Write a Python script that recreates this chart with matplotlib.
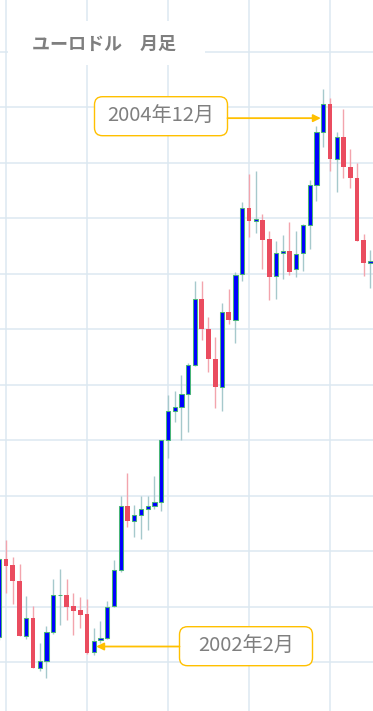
"""
EUR/USD monthly candlestick chart (2000-12 .. 2005-07) with two annotations.
"""

import matplotlib
matplotlib.use('Agg')
import matplotlib.pyplot as plt
from matplotlib.patches import FancyBboxPatch, Rectangle
from matplotlib.transforms import IdentityTransform

plt.rcParams['font.family'] = ['Noto Sans CJK JP', 'DejaVu Sans']

# =========================================================================
# DATA (monthly OHLC)
# =========================================================================
months = [
    '2000-12', '2001-01', '2001-02', '2001-03', '2001-04', '2001-05', '2001-06',
    '2001-07', '2001-08', '2001-09', '2001-10', '2001-11', '2001-12', '2002-01',
    '2002-02', '2002-03', '2002-04', '2002-05', '2002-06', '2002-07', '2002-08',
    '2002-09', '2002-10', '2002-11', '2002-12', '2003-01', '2003-02', '2003-03',
    '2003-04', '2003-05', '2003-06', '2003-07', '2003-08', '2003-09', '2003-10',
    '2003-11', '2003-12', '2004-01', '2004-02', '2004-03', '2004-04', '2004-05',
    '2004-06', '2004-07', '2004-08', '2004-09', '2004-10', '2004-11', '2004-12',
    '2005-01', '2005-02', '2005-03', '2005-04', '2005-05', '2005-06', '2005-07',
]
opens = [
    0.8725, 0.9428, 0.9370, 0.9230, 0.8737, 0.8894, 0.8449,
    0.8506, 0.8768, 0.9101, 0.9101, 0.9004, 0.8968, 0.8932,
    0.8587, 0.8695, 0.8716, 0.9005, 0.9326, 0.9905, 0.9773,
    0.9824, 0.9878, 0.9905, 0.9941, 1.0497, 1.0759, 1.0795,
    1.0912, 1.1173, 1.1768, 1.1497, 1.1227, 1.0980, 1.1650,
    1.1577, 1.1993, 1.2594, 1.2470, 1.2482, 1.2311, 1.1974,
    1.2182, 1.2203, 1.2040, 1.2182, 1.2434, 1.2795, 1.3275,
    1.3524, 1.3029, 1.3227, 1.2956, 1.2863, 1.2302, 1.2097,
]
highs = [
    0.9440, 0.9599, 0.9446, 0.9383, 0.9095, 0.9004, 0.8671,
    0.8824, 0.9248, 0.9338, 0.9248, 0.9122, 0.9083, 0.9068,
    0.8804, 0.8872, 0.9052, 0.9419, 0.9995, 1.0203, 0.9914,
    0.9995, 0.9995, 1.0176, 1.0500, 1.0905, 1.0941, 1.1086,
    1.1191, 1.1932, 1.1932, 1.1605, 1.1425, 1.1732, 1.1858,
    1.2011, 1.2644, 1.2896, 1.2923, 1.2536, 1.2386, 1.2293,
    1.2347, 1.2464, 1.2383, 1.2446, 1.2842, 1.3329, 1.3662,
    1.3578, 1.3275, 1.3478, 1.3118, 1.2992, 1.2356, 1.2212,
]
lows = [
    0.8700, 0.9124, 0.9025, 0.8730, 0.8710, 0.8445, 0.8422,
    0.8359, 0.8750, 0.8836, 0.8881, 0.8743, 0.8806, 0.8575,
    0.8563, 0.8668, 0.8710, 0.8998, 0.9308, 0.9719, 0.9629,
    0.9611, 0.9692, 0.9881, 0.9863, 1.0338, 1.0665, 1.0500,
    1.0569, 1.1166, 1.1401, 1.1113, 1.0791, 1.0764, 1.1542,
    1.1377, 1.1935, 1.2332, 1.2367, 1.2043, 1.1761, 1.1773,
    1.1953, 1.1986, 1.1971, 1.2025, 1.2223, 1.2656, 1.3142,
    1.2926, 1.2737, 1.2857, 1.2773, 1.2290, 1.1980, 1.1867,
]
closes = [
    0.9428, 0.9368, 0.9230, 0.8737, 0.8894, 0.8449, 0.8506,
    0.8768, 0.9101, 0.9108, 0.8998, 0.8962, 0.8926, 0.8581,
    0.8692, 0.8714, 0.8998, 0.9326, 0.9905, 0.9773, 0.9824,
    0.9878, 0.9905, 0.9941, 1.0497, 1.0759, 1.0795, 1.0912,
    1.1173, 1.1768, 1.1497, 1.1227, 1.0980, 1.1650, 1.1577,
    1.1984, 1.2594, 1.2473, 1.2488, 1.2302, 1.1971, 1.2182,
    1.2203, 1.2016, 1.2178, 1.2434, 1.2795, 1.3275, 1.3524,
    1.3029, 1.3227, 1.2956, 1.2863, 1.2295, 1.2097, 1.2115,
]
price_levels = [0.85, 0.90, 0.95, 1.00, 1.05, 1.10, 1.15, 1.20, 1.25, 1.30, 1.35, 1.40]
year_starts = ['2001-01', '2002-01', '2003-01', '2004-01', '2005-01']

title = 'ユーロドル　月足'
notes = [('2004-12', '2004年12月'), ('2002-02', '2002年2月')]

# =========================================================================
# Styling
# =========================================================================
UP_BODY = '#0000ff'
UP_EDGE = '#48b478'
UP_WICK = '#a6c9cc'
DN_BODY = '#ea4c5f'
DN_WICK = '#f3a4ad'
GRID = '#dce8f1'
ACCENT = '#ffc000'
TEXT = '#7f7f7f'

W, H = 373, 711


# pixel -> data helpers (layout only)
def px_x(px):
    return 13 + (px - 87) / 6.75


def px_y(py):
    return 0.85 + (662 - py) / 1110


fig = plt.figure(figsize=(W / 100, H / 100), dpi=100)
ax = fig.add_axes([0, 0, 1, 1])
ax.set_xlim(px_x(0), px_x(W))
ax.set_ylim(px_y(H), px_y(0))

for s in ax.spines.values():
    s.set_visible(False)
ax.set_xticks([months.index(m) for m in year_starts])
ax.set_yticks(price_levels)
ax.tick_params(length=0, labelbottom=False, labelleft=False)
ax.grid(True, color=GRID, linewidth=1.1)
ax.set_axisbelow(True)

# candles
body_w = 0.62
for k in range(len(months)):
    o, h, l, c = opens[k], highs[k], lows[k], closes[k]
    up = c >= o
    ax.vlines(k, l, h, color=UP_WICK if up else DN_WICK, linewidth=1.0, zorder=2)
    bottom = min(o, c)
    height = max(abs(c - o), 0.0004)
    if up:
        ax.bar(k, height, bottom=bottom, width=body_w, color=UP_BODY,
               edgecolor=UP_EDGE, linewidth=0.75, zorder=3)
    else:
        ax.bar(k, height, bottom=bottom, width=body_w + 0.1, color=DN_BODY,
               linewidth=0, zorder=3)

# title box (covers the grid)
pix = IdentityTransform()
ax.add_artist(Rectangle((8, H - 65), 197, 44, transform=pix,
                        facecolor='white', edgecolor='none', zorder=4))
fig.text(32 / W, 1 - 44 / H, title, fontsize=13, fontweight='bold',
         color=TEXT, ha='left', va='center', zorder=5)

# annotations: (box left px, box top px)
box_pos = [(94.5, 96.7), (179.5, 626.7)]
box_w, box_h = 133, 39
for (month, label), (bx, by) in zip(notes, box_pos):
    k = months.index(month)
    mid = (opens[k] + closes[k]) / 2
    ax.add_artist(FancyBboxPatch((bx, H - by - box_h), box_w, box_h, transform=pix,
                                 boxstyle='round,pad=0,rounding_size=8',
                                 facecolor='white', edgecolor=ACCENT,
                                 linewidth=1.0, zorder=6))
    fig.text((bx + box_w / 2) / W, 1 - (by + box_h / 2) / H, label,
             fontsize=14.5, color=TEXT, ha='center', va='center', zorder=7)
    # arrow leaves the box on the side facing the candle
    if px_x(bx) > k:
        start = px_x(bx)
        tip = k + body_w / 2 + 0.05
    else:
        start = px_x(bx + box_w)
        tip = k - body_w / 2 - 0.05
    ax.annotate('', xy=(tip, mid), xytext=(start, mid),
                arrowprops=dict(arrowstyle='-|>', color=ACCENT, lw=1.3,
                                mutation_scale=11, shrinkA=0, shrinkB=0),
                zorder=6)

fig.savefig('out.png', dpi=100)
plt.close()
